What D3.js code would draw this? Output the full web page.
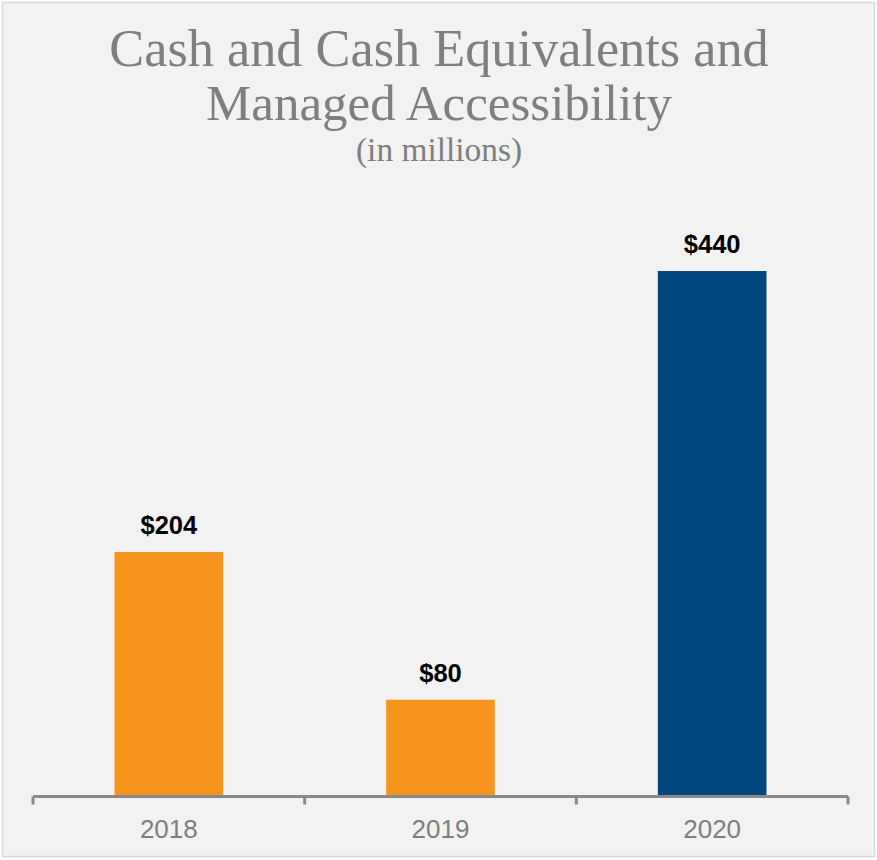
<!DOCTYPE html>
<html>
<head>
<meta charset="utf-8">
<script src="https://cdn.jsdelivr.net/npm/d3@7"></script>
<style>
  body { margin: 0; background: #ffffff; }
</style>
</head>
<body>
<script>
// chart values
var years = ["2018", "2019", "2020"];
var cash = [204, 80, 440];
var barColors = ["#f7941d", "#f7941d", "#00467f"];
var titleLines = ["Cash and Cash Equivalents and", "Managed Accessibility"];
var subTitle = "(in millions)";

var W = 877, H = 860;
var axisY = 796.5, left = 33, right = 848;

var svg = d3.select("body").append("svg")
  .attr("width", W)
  .attr("height", H);

// panel
svg.append("rect")
  .attr("x", 2.5).attr("y", 2.5)
  .attr("width", W - 5).attr("height", H - 6)
  .attr("fill", "#f2f2f2")
  .attr("stroke", "#d9d9d9")
  .attr("stroke-width", 1.5);

// titles, fitted to the widths in the reference
var titleSpec = [
  { text: titleLines[0], y: 66, w: 660 },
  { text: titleLines[1], y: 120, w: 466 },
  { text: subTitle, y: 161, w: 166 }
];
titleSpec.forEach(function(t) {
  var el = svg.append("text")
    .attr("x", 439)
    .attr("y", t.y)
    .attr("text-anchor", "middle")
    .attr("font-family", "'Liberation Serif', 'Times New Roman', serif")
    .attr("font-size", 40)
    .attr("fill", "#7f7f7f")
    .text(t.text);
  var len = el.node().getComputedTextLength();
  el.attr("font-size", (40 * t.w / len).toFixed(1));
});

var x = d3.scaleBand()
  .domain(years)
  .range([left, right])
  .paddingInner(0.6)
  .paddingOuter(0.3);

var y = d3.scaleLinear()
  .domain([0, 440])
  .range([axisY - 1.5, 271]);

var g = svg.append("g");

g.selectAll("rect.bar")
  .data(cash)
  .join("rect")
  .attr("class", "bar")
  .attr("x", function(d, i) { return x(years[i]); })
  .attr("y", function(d) { return y(d); })
  .attr("width", x.bandwidth())
  .attr("height", function(d) { return y(0) - y(d); })
  .attr("fill", function(d, i) { return barColors[i]; });

g.selectAll("text.val")
  .data(cash)
  .join("text")
  .attr("class", "val")
  .attr("x", function(d, i) { return x(years[i]) + x.bandwidth() / 2; })
  .attr("y", function(d) { return y(d) - 18; })
  .attr("text-anchor", "middle")
  .attr("font-family", "'Liberation Sans', Arial, sans-serif")
  .attr("font-weight", "bold")
  .attr("font-size", 25.5)
  .attr("fill", "#000")
  .text(function(d) { return "$" + d; });

// category axis with ticks between the bars
var xAxis = d3.axisBottom(x).tickSize(0).tickPadding(0);
var gx = svg.append("g")
  .attr("transform", "translate(0," + axisY + ")")
  .call(xAxis);
gx.select(".domain").remove();
gx.selectAll("text")
  .attr("y", 41)
  .attr("dy", 0)
  .attr("font-family", "'Liberation Sans', Arial, sans-serif")
  .attr("font-size", 26)
  .attr("fill", "#7f7f7f");

var bounds = [left].concat(years.map(function(d) { return x(d) + x.bandwidth() / 2 + x.step() / 2; }));
gx.append("line")
  .attr("x1", left).attr("x2", right)
  .attr("y1", 0).attr("y2", 0)
  .attr("stroke", "#898989")
  .attr("stroke-width", 3);
gx.selectAll("line.sep")
  .data(bounds)
  .join("line")
  .attr("class", "sep")
  .attr("x1", function(d) { return d; })
  .attr("x2", function(d) { return d; })
  .attr("y1", 0).attr("y2", 8)
  .attr("stroke", "#898989")
  .attr("stroke-width", 3);
</script>
</body>
</html>
